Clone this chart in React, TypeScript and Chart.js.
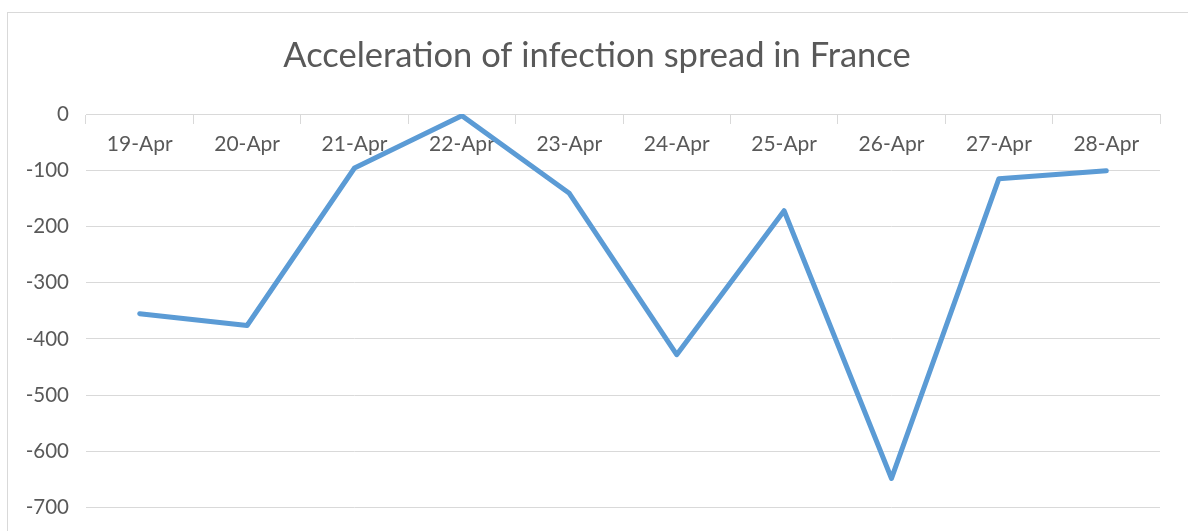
import React, { useEffect, useRef } from "react";
import { Chart, registerables } from "chart.js";

Chart.register(...registerables);

const TITLE = "Acceleration of infection spread in France";
const categories = ["19-Apr", "20-Apr", "21-Apr", "22-Apr", "23-Apr", "24-Apr", "25-Apr", "26-Apr", "27-Apr", "28-Apr"];
const values = [-355, -376, -96, -3, -141, -428, -172, -648, -115, -101];
const yMin = -700;
const yMax = 0;
const yStep = 100;

const FONT = "Lato, 'Open Sans', sans-serif";
const TEXT = "#595959";
const GRID = "#d9d9d9";

const framePlugin = {
  id: "frameAndTitle",
  beforeDraw(chart: any) {
    const ctx = chart.ctx;
    ctx.save();
    ctx.fillStyle = "#ffffff";
    ctx.fillRect(0, 0, chart.width, chart.height);
    ctx.strokeStyle = GRID;
    ctx.lineWidth = 1;
    ctx.strokeRect(7.5, 12.5, 1400, 800);
    ctx.fillStyle = TEXT;
    ctx.font = `normal 34.5px ${FONT}`;
    ctx.textAlign = "center";
    ctx.textBaseline = "alphabetic";
    ctx.fillText(TITLE, 597, 67);
    ctx.restore();
  },
};

export default function App() {
  const ref = useRef<HTMLCanvasElement | null>(null);
  useEffect(() => {
    if (!ref.current) return;
    const chart = new Chart(ref.current, {
      type: "line",
      data: {
        labels: categories,
        datasets: [
          {
            data: values,
            borderColor: "#5B9BD5",
            backgroundColor: "#5B9BD5",
            borderWidth: 5,
            pointRadius: 0,
            tension: 0,
            borderJoinStyle: "round",
            borderCapStyle: "round",
          },
        ],
      },
      options: {
        responsive: false,
        animation: false,
        layout: { padding: { top: 114, left: 0, right: 28, bottom: 18 } },
        plugins: {
          legend: { display: false },
          tooltip: { enabled: false },
          title: { display: false },
        },
        scales: {
          x: {
            type: "category",
            position: { y: 0 } as any,
            offset: true,
            grid: {
              display: true,
              drawOnChartArea: false,
              drawTicks: true,
              tickLength: 9,
              offset: true,
              color: GRID,
            },
            border: { display: true, color: GRID },
            ticks: {
              padding: 9,
              color: TEXT,
              font: { family: FONT, size: 21 },
              maxRotation: 0,
              autoSkip: false,
            },
          },
          y: {
            min: yMin,
            max: yMax,
            grid: { color: GRID, drawTicks: false },
            border: { display: false },
            ticks: {
              stepSize: yStep,
              padding: 17,
              color: TEXT,
              font: { family: FONT, size: 20.5 },
            },
            afterFit(scale: any) {
              scale.width = 86;
            },
          },
        },
      },
      plugins: [framePlugin],
    });
    return () => chart.destroy();
  }, []);
  return (
    <div style={{ position: "fixed", left: 0, top: 0, width: 1188, height: 531, overflow: "hidden" }}>
      <canvas ref={ref} width={1188} height={537} style={{ display: "block" }} />
    </div>
  );
}
